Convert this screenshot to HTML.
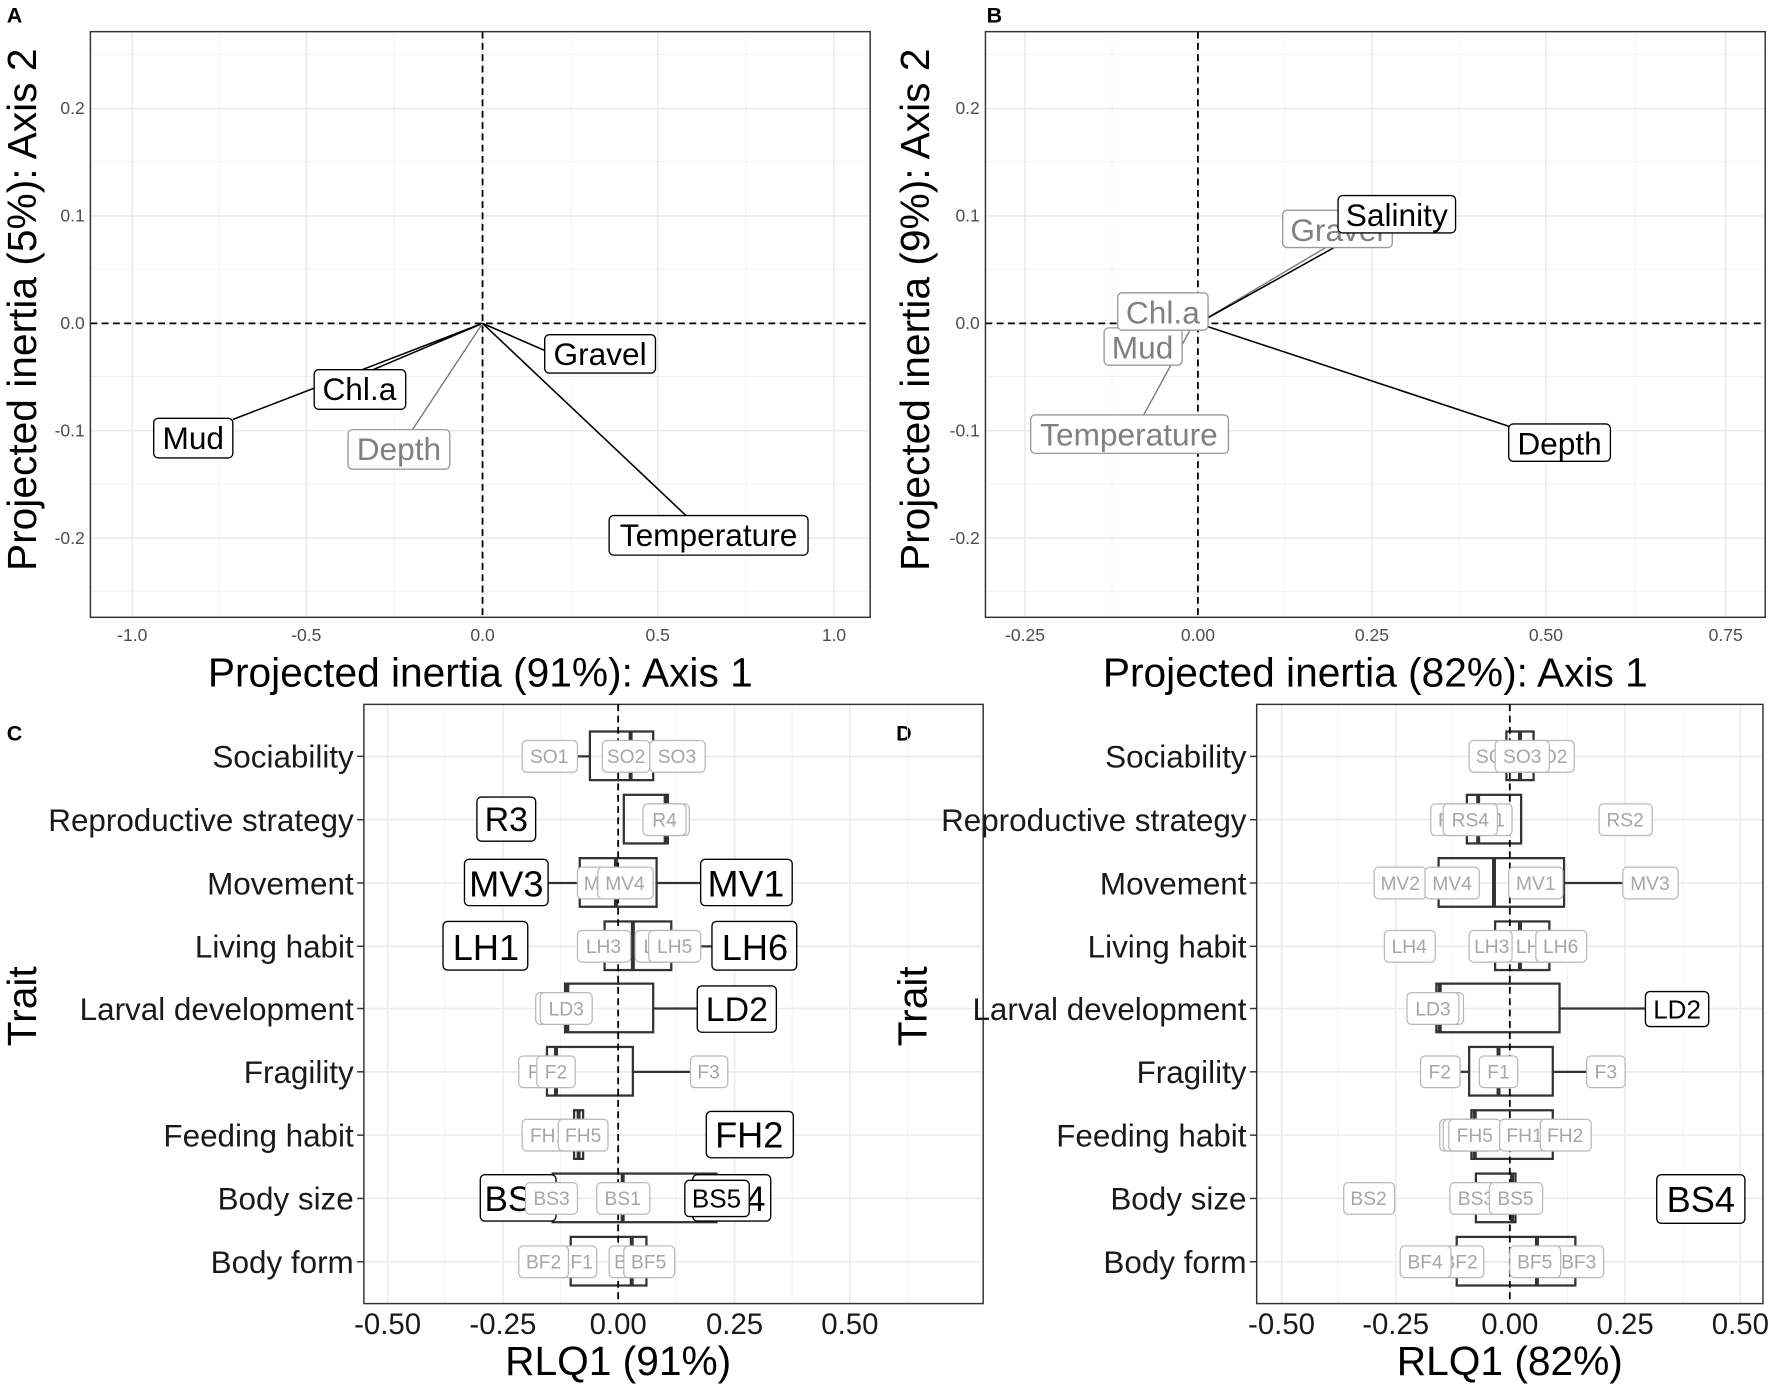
<!DOCTYPE html>
<html><head><meta charset="utf-8"><style>
html,body{margin:0;padding:0;background:#fff}
svg{display:block}
text{font-family:"Liberation Sans",Arial,sans-serif}
.gr{stroke:#ebebeb;stroke-width:1.4}
.gm{stroke:#f2f2f2;stroke-width:0.8}
.fr{fill:none;stroke:#333;stroke-width:1.3}
.tk{fill:#4d4d4d;font-size:15.5px}
.ct{fill:#1a1a1a;font-size:27.8px}
.ti{fill:#000;font-size:36px}
.zl{stroke:#000;stroke-width:1.6;stroke-dasharray:6,4}
.kb{fill:#fff;stroke:#000;stroke-width:1.2}
.gb{fill:#fff;stroke:#9a9a9a;stroke-width:1.2}
.sb{fill:#fff;stroke:#b8b8b8;stroke-width:1.1}
.kt{fill:#000;text-anchor:middle}
.gt{fill:#808080;text-anchor:middle}
.st{fill:#a6a6a6;text-anchor:middle;font-size:17px}
.bx{fill:none;stroke:#333;stroke-width:2}
.md{stroke:#333;stroke-width:3.5}
.wh{stroke:#333;stroke-width:2}
</style></head><body>
<svg width="1772" height="1385" viewBox="0 0 1568 1225" preserveAspectRatio="none" xmlns="http://www.w3.org/2000/svg">
<rect width="1568" height="1225" fill="#fff"/>
<text x="6" y="20" font-size="19" font-weight="bold">A</text>
<text x="873" y="20" font-size="19" font-weight="bold">B</text>
<text x="6" y="655" font-size="19" font-weight="bold">C</text>
<text x="793" y="655" font-size="19" font-weight="bold">D</text>

<!-- ===== Panel A ===== -->
<g>
<line class="gm" x1="80" x2="770" y1="48" y2="48"/><line class="gm" x1="80" x2="770" y1="143" y2="143"/><line class="gm" x1="80" x2="770" y1="238" y2="238"/><line class="gm" x1="80" x2="770" y1="333" y2="333"/><line class="gm" x1="80" x2="770" y1="428" y2="428"/><line class="gm" x1="80" x2="770" y1="523" y2="523"/>
<line class="gm" y1="28" y2="546" x1="194" x2="194"/><line class="gm" y1="28" y2="546" x1="349" x2="349"/><line class="gm" y1="28" y2="546" x1="505" x2="505"/><line class="gm" y1="28" y2="546" x1="660" x2="660"/>
<line class="gr" x1="80" x2="770" y1="96" y2="96"/><line class="gr" x1="80" x2="770" y1="191" y2="191"/><line class="gr" x1="80" x2="770" y1="286" y2="286"/><line class="gr" x1="80" x2="770" y1="381" y2="381"/><line class="gr" x1="80" x2="770" y1="476" y2="476"/>
<line class="gr" y1="28" y2="546" x1="117" x2="117"/><line class="gr" y1="28" y2="546" x1="271" x2="271"/><line class="gr" y1="28" y2="546" x1="427" x2="427"/><line class="gr" y1="28" y2="546" x1="582" x2="582"/><line class="gr" y1="28" y2="546" x1="738" x2="738"/>
<line class="zl" x1="80" x2="770" y1="286" y2="286"/><line class="zl" x1="427" x2="427" y1="28" y2="546"/>
<rect class="fr" x="80" y="28" width="690" height="518"/>
<g class="tk" text-anchor="end"><text x="75" y="101">0.2</text><text x="75" y="196">0.1</text><text x="75" y="291">0.0</text><text x="75" y="386">-0.1</text><text x="75" y="481">-0.2</text></g>
<g class="tk" text-anchor="middle"><text x="117" y="567">-1.0</text><text x="271" y="567">-0.5</text><text x="427" y="567">0.0</text><text x="582" y="567">0.5</text><text x="738" y="567">1.0</text></g>
<text class="ti" x="425" y="607" text-anchor="middle">Projected inertia (91%): Axis 1</text>
<text class="ti" transform="translate(32,274) rotate(-90)" text-anchor="middle">Projected inertia (5%): Axis 2</text>
<line x1="427" y1="286" x2="206" y2="371" stroke="#000" stroke-width="1.4"/>
<line x1="427" y1="286" x2="330" y2="327" stroke="#000" stroke-width="1.4"/>
<line x1="427" y1="286" x2="365" y2="380" stroke="#777" stroke-width="1.2"/>
<line x1="427" y1="286" x2="482" y2="310" stroke="#000" stroke-width="1.4"/>
<line x1="427" y1="286" x2="607" y2="456" stroke="#000" stroke-width="1.4"/>
<rect class="kb" x="482" y="296" width="98" height="34" rx="4"/><text class="kt" x="531" y="323" font-size="28">Gravel</text>
<rect class="kb" x="278" y="327" width="81" height="35" rx="4"/><text class="kt" x="318" y="354" font-size="28">Chl.a</text>
<rect class="kb" x="136" y="370" width="70" height="35" rx="4"/><text class="kt" x="171" y="397" font-size="28">Mud</text>
<rect class="gb" x="308" y="380" width="90" height="35" rx="4"/><text class="gt" x="353" y="407" font-size="28">Depth</text>
<rect class="kb" x="539" y="456" width="176" height="35" rx="4"/><text class="kt" x="627" y="483" font-size="28">Temperature</text>
</g>

<!-- ===== Panel B ===== -->
<g>
<line class="gm" x1="872" x2="1562" y1="48" y2="48"/><line class="gm" x1="872" x2="1562" y1="143" y2="143"/><line class="gm" x1="872" x2="1562" y1="238" y2="238"/><line class="gm" x1="872" x2="1562" y1="333" y2="333"/><line class="gm" x1="872" x2="1562" y1="428" y2="428"/><line class="gm" x1="872" x2="1562" y1="523" y2="523"/>
<line class="gm" y1="28" y2="546" x1="984" x2="984"/><line class="gm" y1="28" y2="546" x1="1137" x2="1137"/><line class="gm" y1="28" y2="546" x1="1291" x2="1291"/><line class="gm" y1="28" y2="546" x1="1447" x2="1447"/>
<line class="gr" x1="872" x2="1562" y1="96" y2="96"/><line class="gr" x1="872" x2="1562" y1="191" y2="191"/><line class="gr" x1="872" x2="1562" y1="286" y2="286"/><line class="gr" x1="872" x2="1562" y1="381" y2="381"/><line class="gr" x1="872" x2="1562" y1="476" y2="476"/>
<line class="gr" y1="28" y2="546" x1="907" x2="907"/><line class="gr" y1="28" y2="546" x1="1060" x2="1060"/><line class="gr" y1="28" y2="546" x1="1214" x2="1214"/><line class="gr" y1="28" y2="546" x1="1368" x2="1368"/><line class="gr" y1="28" y2="546" x1="1527" x2="1527"/>
<line class="zl" x1="872" x2="1562" y1="286" y2="286"/><line class="zl" x1="1060" x2="1060" y1="28" y2="546"/>
<rect class="fr" x="872" y="28" width="690" height="518"/>
<g class="tk" text-anchor="end"><text x="867" y="101">0.2</text><text x="867" y="196">0.1</text><text x="867" y="291">0.0</text><text x="867" y="386">-0.1</text><text x="867" y="481">-0.2</text></g>
<g class="tk" text-anchor="middle"><text x="907" y="567">-0.25</text><text x="1060" y="567">0.00</text><text x="1214" y="567">0.25</text><text x="1368" y="567">0.50</text><text x="1527" y="567">0.75</text></g>
<text class="ti" x="1217" y="607" text-anchor="middle">Projected inertia (82%): Axis 1</text>
<text class="ti" transform="translate(822,274) rotate(-90)" text-anchor="middle">Projected inertia (9%): Axis 2</text>
<line x1="1060" y1="286" x2="1335" y2="377" stroke="#000" stroke-width="1.4"/>
<line x1="1060" y1="286" x2="1173" y2="219" stroke="#777" stroke-width="1.2"/>
<line x1="1060" y1="286" x2="1184" y2="217" stroke="#000" stroke-width="1.4"/>
<line x1="1053" y1="292" x2="1012" y2="367" stroke="#777" stroke-width="1.2"/>
<rect class="gb" x="912" y="367" width="175" height="34" rx="4"/><text class="gt" x="999" y="394" font-size="28">Temperature</text>
<rect class="gb" x="977" y="290" width="69" height="33" rx="4"/><text class="gt" x="1011" y="317" font-size="28">Mud</text>
<rect class="gb" x="989" y="259" width="80" height="33" rx="4"/><text class="gt" x="1029" y="286" font-size="28">Chl.a</text>
<rect class="gb" x="1135" y="186" width="97" height="33" rx="4"/><text class="gt" x="1183" y="213" font-size="28">Gravel</text>
<rect class="kb" x="1184" y="173" width="104" height="33" rx="4"/><text class="kt" x="1236" y="200" font-size="28">Salinity</text>
<rect class="kb" x="1335" y="375" width="90" height="33" rx="4"/><text class="kt" x="1380" y="402" font-size="28">Depth</text>
</g>

<!-- ===== Panel C ===== -->
<g>
<line class="gm" y1="623" y2="1153" x1="394" x2="394"/><line class="gm" y1="623" y2="1153" x1="496" x2="496"/><line class="gm" y1="623" y2="1153" x1="598" x2="598"/><line class="gm" y1="623" y2="1153" x1="701" x2="701"/><line class="gm" y1="623" y2="1153" x1="803" x2="803"/>
<line class="gr" y1="623" y2="1153" x1="343" x2="343"/><line class="gr" y1="623" y2="1153" x1="445" x2="445"/><line class="gr" y1="623" y2="1153" x1="547" x2="547"/><line class="gr" y1="623" y2="1153" x1="650" x2="650"/><line class="gr" y1="623" y2="1153" x1="752" x2="752"/>
<g class="gr"><line x1="322" x2="870" y1="669" y2="669"/><line x1="322" x2="870" y1="725" y2="725"/><line x1="322" x2="870" y1="781" y2="781"/><line x1="322" x2="870" y1="837" y2="837"/><line x1="322" x2="870" y1="892" y2="892"/><line x1="322" x2="870" y1="948" y2="948"/><line x1="322" x2="870" y1="1004" y2="1004"/><line x1="322" x2="870" y1="1060" y2="1060"/><line x1="322" x2="870" y1="1116" y2="1116"/></g>
<rect class="fr" x="322" y="623" width="548" height="530"/>
<g stroke="#333" stroke-width="1.3"><line x1="316" x2="322" y1="669" y2="669"/><line x1="316" x2="322" y1="725" y2="725"/><line x1="316" x2="322" y1="781" y2="781"/><line x1="316" x2="322" y1="837" y2="837"/><line x1="316" x2="322" y1="892" y2="892"/><line x1="316" x2="322" y1="948" y2="948"/><line x1="316" x2="322" y1="1004" y2="1004"/><line x1="316" x2="322" y1="1060" y2="1060"/><line x1="316" x2="322" y1="1116" y2="1116"/></g>
<g class="ct" text-anchor="end"><text x="313" y="679">Sociability</text><text x="313" y="735">Reproductive strategy</text><text x="313" y="791">Movement</text><text x="313" y="847">Living habit</text><text x="313" y="902">Larval development</text><text x="313" y="958">Fragility</text><text x="313" y="1014">Feeding habit</text><text x="313" y="1070">Body size</text><text x="313" y="1126">Body form</text></g>
<g class="ct" text-anchor="middle" style="font-size:26px"><text x="343" y="1180">-0.50</text><text x="445" y="1180">-0.25</text><text x="547" y="1180">0.00</text><text x="650" y="1180">0.25</text><text x="752" y="1180">0.50</text></g>
<text class="ti" x="547" y="1216" text-anchor="middle">RLQ1 (91%)</text>
<text class="ti" transform="translate(32,890) rotate(-90)" text-anchor="middle">Trait</text>
<rect class="bx" x="522" y="647" width="56" height="43"/><line class="md" x1="558" x2="558" y1="647" y2="690"/><line class="wh" x1="511" x2="522" y1="669" y2="669"/>
<rect class="bx" x="552" y="703" width="39" height="43"/><line class="md" x1="589" x2="589" y1="703" y2="746"/>
<rect class="bx" x="513" y="759" width="68" height="43"/><line class="md" x1="545" x2="545" y1="759" y2="802"/><line class="wh" x1="485" x2="513" y1="781" y2="781"/><line class="wh" x1="581" x2="620" y1="781" y2="781"/>
<rect class="bx" x="535" y="815" width="59" height="43"/><line class="md" x1="560" x2="560" y1="815" y2="858"/><line class="wh" x1="594" x2="630" y1="837" y2="837"/>
<rect class="bx" x="500" y="870" width="78" height="43"/><line class="md" x1="502" x2="502" y1="870" y2="913"/><line class="wh" x1="578" x2="617" y1="892" y2="892"/>
<rect class="bx" x="484" y="926" width="76" height="43"/><line class="md" x1="492" x2="492" y1="926" y2="969"/><line class="wh" x1="560" x2="611" y1="948" y2="948"/>
<rect class="bx" x="508" y="982" width="8" height="43"/><line class="md" x1="512" x2="512" y1="982" y2="1025"/>
<rect class="bx" x="489" y="1038" width="145" height="43"/><line class="md" x1="551" x2="551" y1="1038" y2="1081"/>
<rect class="bx" x="505" y="1094" width="67" height="43"/><line class="md" x1="559" x2="559" y1="1094" y2="1137"/>
<line class="zl" x1="547" x2="547" y1="623" y2="1153"/>
<rect class="sb" x="462" y="655" width="49" height="28" rx="4"/><text class="st" x="486" y="675">SO1</text>
<rect class="sb" x="533" y="655" width="42" height="28" rx="4"/><text class="st" x="554" y="675">SO2</text>
<rect class="sb" x="575" y="655" width="49" height="28" rx="4"/><text class="st" x="599" y="675">SO3</text>
<rect class="sb" x="572" y="711" width="38" height="28" rx="4"/><rect class="sb" x="569" y="711" width="38" height="28" rx="4"/><text class="st" x="588" y="731">R4</text>
<rect class="kb" x="422" y="705" width="52" height="39" rx="4"/><text class="kt" x="448" y="735" font-size="30">R3</text>
<rect class="sb" x="511" y="767" width="46" height="28" rx="4"/><text class="st" x="534" y="787">MV2</text>
<rect class="sb" x="529" y="767" width="49" height="28" rx="4"/><text class="st" x="553" y="787">MV4</text>
<rect class="kb" x="411" y="760" width="74" height="41" rx="4"/><text class="kt" x="448" y="793" font-size="32">MV3</text>
<rect class="kb" x="620" y="760" width="81" height="41" rx="4"/><text class="kt" x="660" y="793" font-size="33">MV1</text>
<rect class="sb" x="562" y="823" width="46" height="28" rx="4"/><text class="st" x="585" y="843">LH4</text>
<rect class="sb" x="574" y="823" width="46" height="28" rx="4"/><text class="st" x="597" y="843">LH5</text>
<rect class="sb" x="511" y="823" width="47" height="28" rx="4"/><text class="st" x="534" y="843">LH3</text>
<rect class="kb" x="392" y="815" width="75" height="43" rx="4"/><text class="kt" x="430" y="849" font-size="32">LH1</text>
<rect class="kb" x="630" y="815" width="75" height="43" rx="4"/><text class="kt" x="668" y="849" font-size="32">LH6</text>
<rect class="sb" x="474" y="878" width="46" height="28" rx="4"/><rect class="sb" x="478" y="878" width="46" height="28" rx="4"/><text class="st" x="501" y="898">LD3</text>
<rect class="kb" x="617" y="872" width="70" height="41" rx="4"/><text class="kt" x="652" y="903" font-size="30">LD2</text>
<rect class="sb" x="459" y="934" width="36" height="28" rx="4"/><text class="st" x="477" y="954">F1</text>
<rect class="sb" x="475" y="934" width="34" height="28" rx="4"/><text class="st" x="492" y="954">F2</text>
<rect class="sb" x="611" y="934" width="33" height="28" rx="4"/><text class="st" x="627" y="954">F3</text>
<rect class="sb" x="462" y="990" width="46" height="28" rx="4"/><text class="st" x="485" y="1010">FH1</text>
<rect class="sb" x="494" y="990" width="44" height="28" rx="4"/><text class="st" x="516" y="1010">FH5</text>
<rect class="kb" x="625" y="983" width="77" height="41" rx="4"/><text class="kt" x="663" y="1015" font-size="32">FH2</text>
<rect class="kb" x="613" y="1039" width="69" height="41" rx="4"/><text class="kt" x="648" y="1071" font-size="31">BS4</text>
<rect class="kb" x="425" y="1039" width="67" height="41" rx="4"/><text class="kt" x="458" y="1071" font-size="31">BS2</text>
<rect class="sb" x="465" y="1046" width="46" height="28" rx="4"/><text class="st" x="488" y="1066">BS3</text>
<rect class="sb" x="528" y="1046" width="47" height="28" rx="4"/><text class="st" x="551" y="1066">BS1</text>
<rect class="kb" x="606" y="1044" width="57" height="32" rx="4"/><text class="kt" x="634" y="1068" font-size="23">BS5</text>
<rect class="sb" x="490" y="1102" width="38" height="28" rx="4"/><text class="st" x="509" y="1122">BF1</text>
<rect class="sb" x="459" y="1102" width="44" height="28" rx="4"/><text class="st" x="481" y="1122">BF2</text>
<rect class="sb" x="539" y="1102" width="40" height="28" rx="4"/><text class="st" x="559" y="1122">BF3</text>
<rect class="sb" x="552" y="1102" width="45" height="28" rx="4"/><text class="st" x="574" y="1122">BF5</text>
</g>

<!-- ===== Panel D ===== -->
<g>
<line class="gm" y1="623" y2="1153" x1="1184" x2="1184"/><line class="gm" y1="623" y2="1153" x1="1285" x2="1285"/><line class="gm" y1="623" y2="1153" x1="1387" x2="1387"/><line class="gm" y1="623" y2="1153" x1="1489" x2="1489"/>
<line class="gr" y1="623" y2="1153" x1="1134" x2="1134"/><line class="gr" y1="623" y2="1153" x1="1235" x2="1235"/><line class="gr" y1="623" y2="1153" x1="1336" x2="1336"/><line class="gr" y1="623" y2="1153" x1="1438" x2="1438"/><line class="gr" y1="623" y2="1153" x1="1540" x2="1540"/>
<g class="gr"><line x1="1112" x2="1560" y1="669" y2="669"/><line x1="1112" x2="1560" y1="725" y2="725"/><line x1="1112" x2="1560" y1="781" y2="781"/><line x1="1112" x2="1560" y1="837" y2="837"/><line x1="1112" x2="1560" y1="892" y2="892"/><line x1="1112" x2="1560" y1="948" y2="948"/><line x1="1112" x2="1560" y1="1004" y2="1004"/><line x1="1112" x2="1560" y1="1060" y2="1060"/><line x1="1112" x2="1560" y1="1116" y2="1116"/></g>
<rect class="fr" x="1112" y="623" width="448" height="530"/>
<g stroke="#333" stroke-width="1.3"><line x1="1106" x2="1112" y1="669" y2="669"/><line x1="1106" x2="1112" y1="725" y2="725"/><line x1="1106" x2="1112" y1="781" y2="781"/><line x1="1106" x2="1112" y1="837" y2="837"/><line x1="1106" x2="1112" y1="892" y2="892"/><line x1="1106" x2="1112" y1="948" y2="948"/><line x1="1106" x2="1112" y1="1004" y2="1004"/><line x1="1106" x2="1112" y1="1060" y2="1060"/><line x1="1106" x2="1112" y1="1116" y2="1116"/></g>
<g class="ct" text-anchor="end"><text x="1103" y="679">Sociability</text><text x="1103" y="735">Reproductive strategy</text><text x="1103" y="791">Movement</text><text x="1103" y="847">Living habit</text><text x="1103" y="902">Larval development</text><text x="1103" y="958">Fragility</text><text x="1103" y="1014">Feeding habit</text><text x="1103" y="1070">Body size</text><text x="1103" y="1126">Body form</text></g>
<g class="ct" text-anchor="middle" style="font-size:26px"><text x="1134" y="1180">-0.50</text><text x="1235" y="1180">-0.25</text><text x="1336" y="1180">0.00</text><text x="1438" y="1180">0.25</text><text x="1540" y="1180">0.50</text></g>
<text class="ti" x="1336" y="1216" text-anchor="middle">RLQ1 (82%)</text>
<text class="ti" transform="translate(820,890) rotate(-90)" text-anchor="middle">Trait</text>
<rect class="bx" x="1333" y="647" width="24" height="43"/><line class="md" x1="1345" x2="1345" y1="647" y2="690"/>
<rect class="bx" x="1298" y="703" width="48" height="43"/><line class="md" x1="1308" x2="1308" y1="703" y2="746"/>
<rect class="bx" x="1273" y="759" width="111" height="43"/><line class="md" x1="1322" x2="1322" y1="759" y2="802"/><line class="wh" x1="1384" x2="1436" y1="781" y2="781"/>
<rect class="bx" x="1323" y="815" width="48" height="43"/><line class="md" x1="1345" x2="1345" y1="815" y2="858"/>
<rect class="bx" x="1271" y="870" width="109" height="43"/><line class="md" x1="1274" x2="1274" y1="870" y2="913"/><line class="wh" x1="1380" x2="1456" y1="892" y2="892"/>
<rect class="bx" x="1300" y="926" width="74" height="43"/><line class="md" x1="1326" x2="1326" y1="926" y2="969"/><line class="wh" x1="1292" x2="1300" y1="948" y2="948"/><line class="wh" x1="1374" x2="1404" y1="948" y2="948"/>
<rect class="bx" x="1302" y="982" width="72" height="43"/><line class="md" x1="1305" x2="1305" y1="982" y2="1025"/>
<rect class="bx" x="1306" y="1038" width="35" height="43"/><line class="md" x1="1338" x2="1338" y1="1038" y2="1081"/>
<rect class="bx" x="1289" y="1094" width="105" height="43"/><line class="md" x1="1360" x2="1360" y1="1094" y2="1137"/>
<line class="zl" x1="1336" x2="1336" y1="623" y2="1153"/>
<rect class="sb" x="1300" y="655" width="46" height="28" rx="4"/><text class="st" x="1323" y="675">SO1</text>
<rect class="sb" x="1347" y="655" width="46" height="28" rx="4"/><text class="st" x="1370" y="675">SO2</text>
<rect class="sb" x="1323" y="655" width="48" height="28" rx="4"/><text class="st" x="1347" y="675">SO3</text>
<rect class="sb" x="1266" y="711" width="46" height="28" rx="4"/><text class="st" x="1289" y="731">RS3</text>
<rect class="sb" x="1292" y="711" width="46" height="28" rx="4"/><text class="st" x="1315" y="731">RS1</text>
<rect class="sb" x="1277" y="711" width="48" height="28" rx="4"/><text class="st" x="1301" y="731">RS4</text>
<rect class="sb" x="1415" y="711" width="47" height="28" rx="4"/><text class="st" x="1438" y="731">RS2</text>
<rect class="sb" x="1216" y="767" width="46" height="28" rx="4"/><text class="st" x="1239" y="787">MV2</text>
<rect class="sb" x="1261" y="767" width="48" height="28" rx="4"/><text class="st" x="1285" y="787">MV4</text>
<rect class="sb" x="1335" y="767" width="48" height="28" rx="4"/><text class="st" x="1359" y="787">MV1</text>
<rect class="sb" x="1436" y="767" width="49" height="28" rx="4"/><text class="st" x="1460" y="787">MV3</text>
<rect class="sb" x="1225" y="823" width="45" height="28" rx="4"/><text class="st" x="1247" y="843">LH4</text>
<rect class="sb" x="1335" y="823" width="45" height="28" rx="4"/><text class="st" x="1357" y="843">LH5</text>
<rect class="sb" x="1300" y="823" width="38" height="28" rx="4"/><text class="st" x="1320" y="843">LH3</text>
<rect class="sb" x="1359" y="823" width="45" height="28" rx="4"/><text class="st" x="1381" y="843">LH6</text>
<rect class="sb" x="1249" y="878" width="46" height="28" rx="4"/><rect class="sb" x="1245" y="878" width="46" height="28" rx="4"/><text class="st" x="1268" y="898">LD3</text>
<rect class="kb" x="1456" y="877" width="56" height="31" rx="4"/><text class="kt" x="1484" y="901" font-size="23">LD2</text>
<rect class="sb" x="1257" y="934" width="35" height="28" rx="4"/><text class="st" x="1274" y="954">F2</text>
<rect class="sb" x="1309" y="934" width="34" height="28" rx="4"/><text class="st" x="1326" y="954">F1</text>
<rect class="sb" x="1404" y="934" width="34" height="28" rx="4"/><text class="st" x="1421" y="954">F3</text>
<rect class="sb" x="1274" y="990" width="46" height="28" rx="4"/><rect class="sb" x="1277" y="990" width="46" height="28" rx="4"/>
<rect class="sb" x="1282" y="990" width="46" height="28" rx="4"/><text class="st" x="1305" y="1010">FH5</text>
<rect class="sb" x="1327" y="990" width="45" height="28" rx="4"/><text class="st" x="1349" y="1010">FH1</text>
<rect class="sb" x="1363" y="990" width="45" height="28" rx="4"/><text class="st" x="1385" y="1010">FH2</text>
<rect class="sb" x="1189" y="1046" width="45" height="28" rx="4"/><text class="st" x="1211" y="1066">BS2</text>
<rect class="sb" x="1283" y="1046" width="46" height="28" rx="4"/><text class="st" x="1306" y="1066">BS3</text>
<rect class="sb" x="1318" y="1046" width="47" height="28" rx="4"/><text class="st" x="1341" y="1066">BS5</text>
<rect class="kb" x="1466" y="1039" width="78" height="43" rx="4"/><text class="kt" x="1505" y="1072" font-size="32">BS4</text>
<rect class="sb" x="1275" y="1102" width="38" height="28" rx="4"/><text class="st" x="1292" y="1122">BF2</text>
<rect class="sb" x="1239" y="1102" width="45" height="28" rx="4"/><text class="st" x="1261" y="1122">BF4</text>
<rect class="sb" x="1372" y="1102" width="47" height="28" rx="4"/><text class="st" x="1397" y="1122">BF3</text>
<rect class="sb" x="1336" y="1102" width="45" height="28" rx="4"/><text class="st" x="1358" y="1122">BF5</text>
</g>
</svg>
</body></html>
